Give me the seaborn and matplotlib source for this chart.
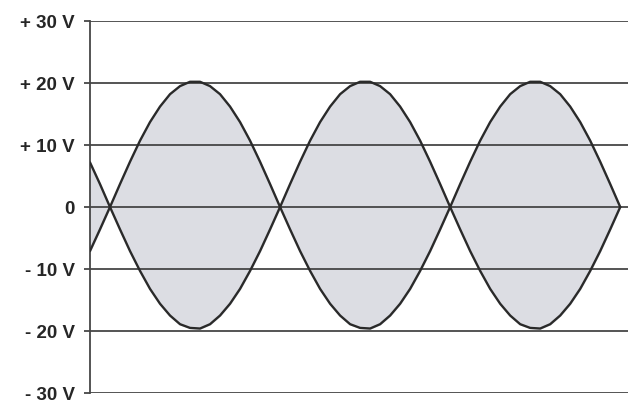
import numpy as np
import pandas as pd
import matplotlib
matplotlib.use("Agg")
import matplotlib.pyplot as plt
import seaborn as sns

# ============ DATA ============
# time axis in arbitrary units (no x labels in the original), one point every 10 units
time = list(range(0, 540, 10))

# upper envelope in volts
lobe_up = [0, 3.7, 7.3, 10.7, 13.7, 16.2, 18.2, 19.5, 20.2, 20.2, 19.5, 18.2, 16.2, 13.7, 10.7, 7.3, 3.7]
upper = [7.2, 3.7] + lobe_up + lobe_up + lobe_up + [0]

# lower envelope in volts (bottoms look a bit flatter)
lobe_lo = [0, -3.6, -7.1, -10.3, -13.2, -15.6, -17.5, -18.9, -19.5, -19.6, -18.9, -17.5, -15.6, -13.2, -10.3, -7.1, -3.6]
lower = [-7.1, -3.6] + lobe_lo + lobe_lo + lobe_lo + [0]

volt_ticks = [30, 20, 10, 0, -10, -20, -30]
volt_labels = ["+ 30 V", "+ 20 V", "+ 10 V", "0", "- 10 V", "- 20 V", "- 30 V"]

df = pd.DataFrame({"time": time, "upper": upper, "lower": lower})

# ============ PLOT ============
sns.set_theme(style="white")
plt.rcParams["font.family"] = ["Liberation Sans", "DejaVu Sans"]

line_col = "#2a2a2a"
grid_col = "#464646"

fig = plt.figure(figsize=(6.31, 4.05), dpi=100)
ax = fig.add_axes([0.1426, 0.0296, 0.853, 0.9185])

ax.fill_between(df["time"], df["lower"], df["upper"], color="#dcdde3", zorder=1)
for v in volt_ticks:
    ax.axhline(v, color=grid_col, lw=1.3, zorder=2)
sns.lineplot(data=df, x="time", y="upper", color=line_col, lw=1.7, ax=ax, zorder=3)
sns.lineplot(data=df, x="time", y="lower", color=line_col, lw=1.7, ax=ax, zorder=3)

ax.set_xlim(0, 538)
ax.set_ylim(-30, 30)
ax.set_xticks([])
ax.set_yticks(volt_ticks)
ax.set_yticklabels(volt_labels, fontsize=13.5, fontweight="bold", color="#262626")
ax.tick_params(axis="y", length=4, width=1.3, color=grid_col, pad=7, left=True)
ax.set_xlabel("")
ax.set_ylabel("")

for side in ["top", "right", "bottom"]:
    ax.spines[side].set_visible(False)
ax.spines["left"].set_color(grid_col)
ax.spines["left"].set_linewidth(1.3)

fig.savefig("out.png", dpi=100)
